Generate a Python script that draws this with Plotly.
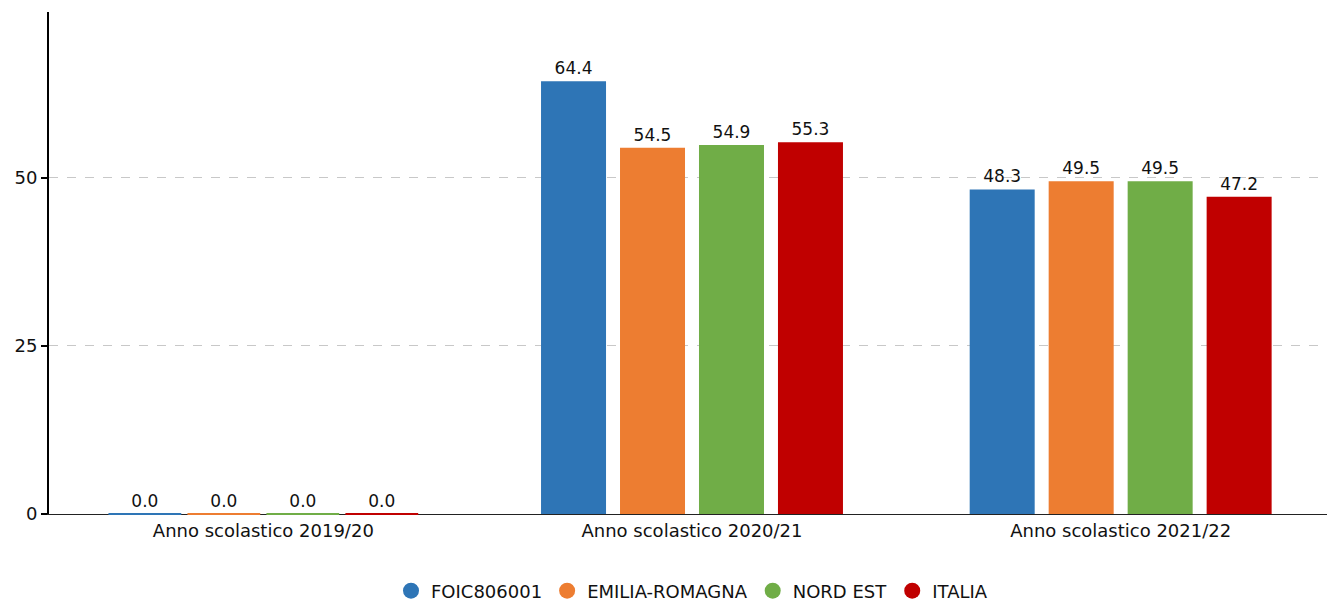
import plotly.graph_objects as go

categories = ["Anno scolastico 2019/20", "Anno scolastico 2020/21", "Anno scolastico 2021/22"]
series_names = ["FOIC806001", "EMILIA-ROMAGNA", "NORD EST", "ITALIA"]
foic = [0.0, 64.4, 48.3]
emilia = [0.0, 54.5, 49.5]
nordest = [0.0, 54.9, 49.5]
italia = [0.0, 55.3, 47.2]
colors = ["#2E75B6", "#ED7D31", "#70AD47", "#C00000"]
y_ticks = [0, 25, 50]

values = [foic, emilia, nordest, italia]
font = "DejaVu Sans"

# the page body has an 8px margin, so the figure is sized to fit the window
W, H = 1327, 598
fig = go.Figure()
for i, (name, vals, col) in enumerate(zip(series_names, values, colors)):
    fig.add_trace(go.Bar(
        x=categories, y=vals, name=name, marker_color=col,
        marker_line_width=0, offsetgroup=str(i),
        text=[f"{v:.1f}" for v in vals], textposition="outside",
        textfont=dict(family=font, size=17, color="#111"),
        cliponaxis=False, showlegend=False,
    ))
# zero-value bars are drawn as a thin line, like in the reference
for i, (name, vals, col) in enumerate(zip(series_names, values, colors)):
    fig.add_trace(go.Scatter(
        x=categories, y=[v if v == 0 else None for v in vals], mode="markers",
        offsetgroup=str(i), showlegend=False, hoverinfo="skip", cliponaxis=False,
        marker=dict(symbol="line-ew", size=52, color=col, line=dict(color=col, width=2)),
    ))
for name, col in zip(series_names, colors):
    fig.add_trace(go.Scatter(
        x=[None], y=[None], mode="markers", name=name,
        marker=dict(symbol="circle", size=24, color=col),
    ))

fig.update_layout(
    width=W, height=H,
    margin=dict(l=41, r=0, t=4, b=92, autoexpand=False),
    paper_bgcolor="white", plot_bgcolor="white",
    barmode="group", bargap=0.263, bargroupgap=0.177,
    scattermode="group", scattergap=0.263,
    font=dict(family=font, size=17, color="#111"),
    legend=dict(orientation="h", x=0.5, xanchor="center", xref="paper",
                yref="container", y=(H - 583) / H, yanchor="middle",
                font=dict(family=font, size=18, color="#111"), itemwidth=30,
                traceorder="normal"),
    showlegend=True,
)
fig.update_xaxes(showline=True, linecolor="#222", linewidth=1, ticks="",
                 tickfont=dict(family=font, size=18), showgrid=False, automargin=False,
                 layer="below traces")
fig.update_yaxes(range=[0, 74.7], tickvals=y_ticks, showline=True, linecolor="black",
                 linewidth=2, ticks="outside", ticklen=6, tickcolor="black", tickwidth=2,
                 showgrid=True, gridcolor="#c8c8c8", griddash="dash", gridwidth=1,
                 zeroline=False, tickfont=dict(family=font, size=18), automargin=False,
                 layer="below traces")

fig.write_html("out.html")
